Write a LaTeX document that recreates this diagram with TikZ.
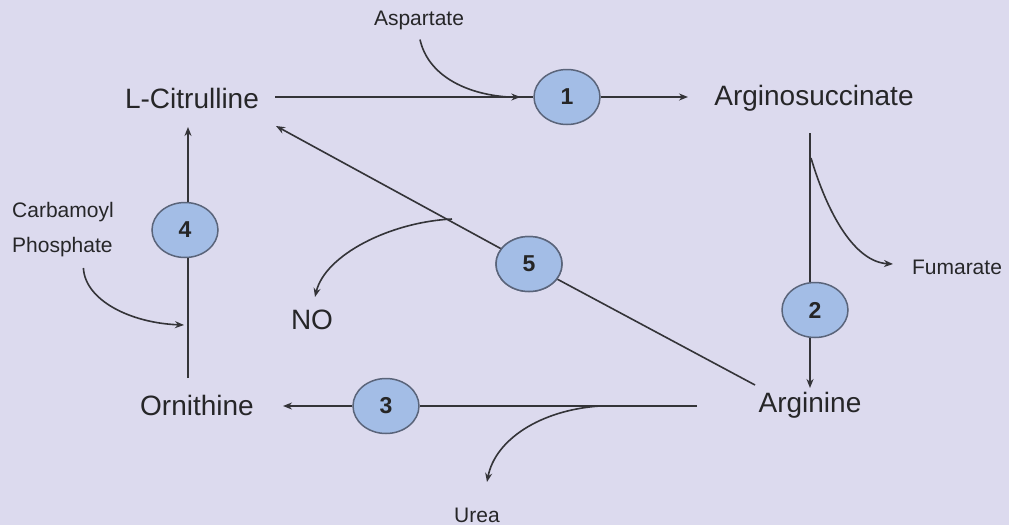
\documentclass[tikz,border=0pt]{standalone}
\usepackage{fontspec}
\setmainfont{Liberation Sans}
\usetikzlibrary{arrows.meta,decorations.markings,shapes.geometric}
\definecolor{bgc}{RGB}{220,218,238}
\definecolor{efill}{RGB}{163,189,230}
\definecolor{edraw}{RGB}{90,100,122}
\definecolor{lc}{RGB}{52,52,56}
\definecolor{tc}{RGB}{38,38,40}
\tikzset{
  big/.style={text=tc,font=\fontsize{28}{30}\selectfont,inner sep=0pt},
  small/.style={text=tc,font=\fontsize{21}{23}\selectfont,inner sep=0pt},
  enz/.style={ellipse,draw=edraw,line width=1.5pt,fill=efill,minimum width=66pt,minimum height=55pt,inner sep=0pt,text=black!85,font=\bfseries\fontsize{23}{25}\selectfont},
  ln/.style={draw=lc,line width=1.6pt},
  arr/.style={ln,-{Stealth[length=9pt,width=7pt]}},
  midarr/.style={ln,postaction={decorate},decoration={markings,mark=at position #1 with {\arrow{Stealth[length=9pt,width=7pt]}}}}
}
\begin{document}
\begin{tikzpicture}[x=1pt,y=-1pt]
\fill[bgc] (0,0) rectangle (1009,525);
\useasboundingbox (0,0) rectangle (1009,525);
% metabolites
\node[big] (cit) at (192,98) {L-Citrulline};
\node[big] (asu) at (814,98) {Arginosuccinate};
\node[big] (arg) at (810,405) {Arginine};
\node[big] (orn) at (197,405) {Ornithine};
\node[big] (no) at (312,320) {NO};
\node[small] (asp) at (419,20) {Aspartate};
\node[small] (fum) at (957,267) {Fumarate};
\node[small] (urea) at (477,515) {Urea};
\node[small,anchor=west] (carb) at (12,212) {Carbamoyl};
\node[small,anchor=west] (phos) at (12,247) {Phosphate};
% enzymes
\node[enz] (e1) at (567,97) {1};
\node[enz] (e2) at (815,310) {2};
\node[enz] (e3) at (386,406) {3};
\node[enz] (e4) at (185,230) {4};
\node[enz] (e5) at (529,264) {5};
% helper coordinates
\coordinate (citR) at (275,97);
\coordinate (aspJ) at (508,97);
\coordinate (asuL) at (688,97);
\coordinate (asuB) at (810,133);
\coordinate (fumJ) at (811,158);
\coordinate (argT) at (810,388);
\coordinate (fumE) at (893,264);
\coordinate (argL) at (697,406);
\coordinate (ureaJ) at (600,406);
\coordinate (ureaE) at (487,482);
\coordinate (ornR) at (283,406);
\coordinate (ornT) at (188,378);
\coordinate (citB) at (188,127);
\coordinate (phosJ) at (184,325);
\coordinate (argUL) at (755,385);
\coordinate (citBR) at (276,126);
\coordinate (noJ) at (452,219);
\coordinate (noE) at (315,297);
% reaction 1
\draw[midarr=0.95] (citR) -- (e1.west);
\draw[arr] (e1.east) -- (asuL);
\draw[ln] (asp.south) ++(1,10) .. controls (428,75) and (465,94) .. (aspJ);
% reaction 2
\draw[ln] (asuB) -- (e2.north -| asuB);
\draw[arr] (e2.south -| asuB) -- (argT);
\draw[arr] (fumJ) .. controls (828,215) and (855,262) .. (fumE);
% reaction 3
\draw[ln] (argL) -- (e3.east);
\draw[arr] (e3.west) -- (ornR);
\draw[arr] (ureaJ) .. controls (540,410) and (495,440) .. (ureaE);
% reaction 4
\draw[ln] (ornT) -- (e4.south -| ornT);
\draw[arr] (e4.north -| ornT) -- (citB);
\draw[arr] (phos.south) ++(21,11) .. controls (85,300) and (130,323) .. (phosJ);
% reaction 5
\draw[ln] (argUL) -- (e5);
\draw[arr] (e5) -- (citBR);
\draw[arr] (noJ) .. controls (390,222) and (325,255) .. (noE);
% redraw enzyme 5 on top of its line
\node[enz] at (e5) {5};
\end{tikzpicture}
\end{document}
